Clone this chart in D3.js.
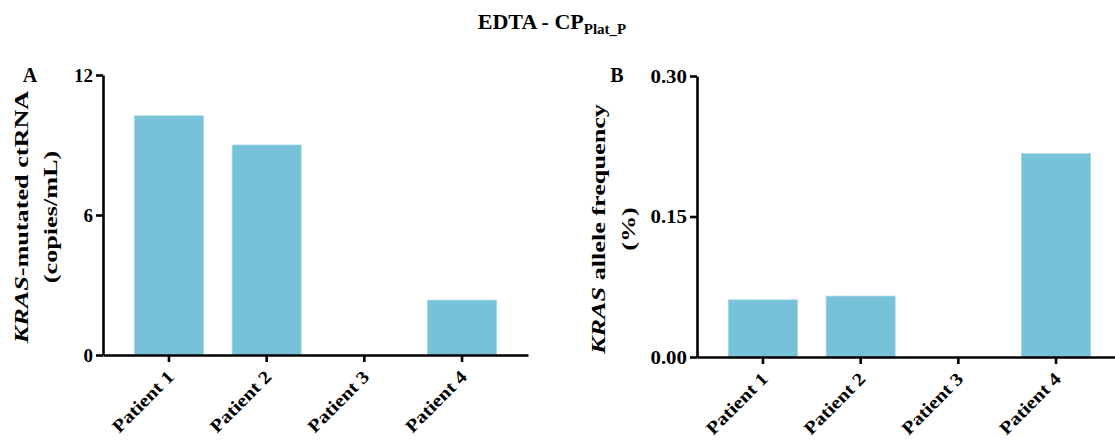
<!DOCTYPE html>
<html><head><meta charset="utf-8">
<script src="https://cdn.jsdelivr.net/npm/d3@7"></script>
<style>
body{margin:0;background:#fff}
svg{display:block}
</style>
</head><body><svg id="c" width="1115" height="441"></svg>
<script>
const patients = ["Patient 1", "Patient 2", "Patient 3", "Patient 4"];
const ctRNA = [10.25, 9.0, 0, 2.35];
const alleleFreq = [0.061, 0.065, 0, 0.217];
const ticksA = [0, 6, 12];
const ticksB = [0, 0.15, 0.30];

const FONT = "'Liberation Serif', 'Times New Roman', Times, serif";
const svg = d3.select("#c");
const barColor = "#77C1D9";

function styleText(sel, size) {
  return sel.style("font-family", FONT).style("font-weight", "bold").style("font-size", size + "px").attr("fill", "#000");
}

// Title
const title = styleText(svg.append("text").attr("x", 552).attr("y", 29).attr("text-anchor", "middle"), 22);
title.append("tspan").text("EDTA - CP");
title.append("tspan").attr("dy", 5).style("font-size", "15px").text("Plat_P");

function panel(o) {
  const g = svg.append("g");
  const x = d3.scaleBand().domain(patients).range([o.x0, o.x0 + 425]).paddingInner(0.294).paddingOuter(0.322);
  const y = d3.scaleLinear().domain([0, o.max]).range([o.yb, o.yt]);

  g.selectAll("rect.bar").data(o.values).join("rect")
    .attr("class", "bar")
    .attr("x", (d, i) => x(patients[i]))
    .attr("width", x.bandwidth())
    .attr("y", d => y(d))
    .attr("height", d => y(0) - y(d))
    .attr("fill", barColor)
    .attr("stroke", "#9fd3e4").attr("stroke-width", 0.8);

  const ya = g.append("g").attr("transform", `translate(${o.x0},0)`)
    .call(d3.axisLeft(y).tickValues(o.ticks).tickFormat(o.fmt).tickSize(7).tickSizeOuter(0).tickPadding(3));
  styleText(ya.selectAll("text"), 19);
  if (o.tickScale) ya.selectAll("text").attr("transform", `scale(${o.tickScale},1)`).attr("x", -10 / o.tickScale);

  const xa = g.append("g").attr("transform", `translate(0,${o.yb})`)
    .call(d3.axisBottom(x).tickSize(7).tickSizeOuter(0));
  xa.selectAll("text").remove();
  [ya, xa].forEach(a => {
    a.select(".domain").attr("stroke", "#000").attr("stroke-width", 2.6);
    a.selectAll(".tick line").attr("stroke", "#000").attr("stroke-width", 2.6);
  });

  styleText(g.selectAll("text.xl").data(patients).join("text")
    .attr("class", "xl")
    .attr("text-anchor", "end")
    .attr("transform", d => `translate(${x(d) + x.bandwidth() / 2 + 6},${o.yb + 23}) rotate(-45) scale(1.15,1)`)
    .text(d => d), 18);

  styleText(svg.append("text").attr("x", o.letterX).attr("y", 82).attr("text-anchor", "middle"), 20).text(o.letter);

  const t1 = styleText(svg.append("text").attr("text-anchor", "middle").attr("dominant-baseline", "central")
    .attr("transform", `translate(${o.t1x},${o.ty}) rotate(-90) scale(1.38,1)`), 19);
  t1.append("tspan").style("font-style", "italic").text("KRAS");
  t1.append("tspan").text(o.line1);
  styleText(svg.append("text").attr("text-anchor", "middle").attr("dominant-baseline", "central")
    .attr("transform", `translate(${o.t2x},${o.ty}) rotate(-90) scale(1.38,1)`), 19)
    .text(o.line2);
}

panel({x0: 103, yt: 75, yb: 355, max: 12, ticks: ticksA, fmt: d3.format("d"), values: ctRNA,
  letter: "A", letterX: 30, t1x: 21, t2x: 51, ty: 217, line1: "-mutated ctRNA", line2: "(copies/mL)"});
panel({x0: 697, yt: 76, yb: 357, max: 0.30, ticks: ticksB, fmt: d3.format(".2f"), values: alleleFreq, tickScale: 1.1,
  letter: "B", letterX: 617, t1x: 598, t2x: 629, ty: 229, line1: " allele frequency", line2: "(%)"});
</script></body></html>
